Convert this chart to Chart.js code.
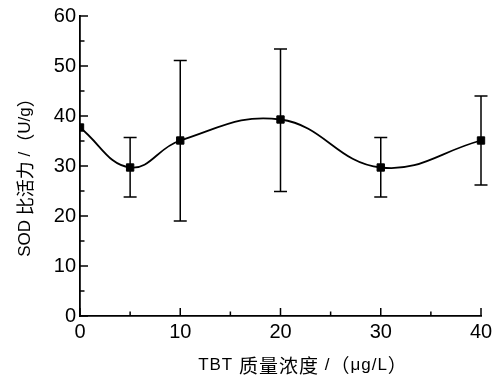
<!DOCTYPE html>
<html>
<head>
<meta charset="utf-8">
<script src="https://cdn.jsdelivr.net/npm/chart.js@4/dist/chart.umd.min.js"></script>
<style>
html,body{margin:0;padding:0;background:#fff;}
#wrap{width:499px;height:376px;position:relative;}
</style>
</head>
<body>
<div id="wrap"><canvas id="c" width="499" height="376"></canvas></div>
<script>
// Data
const concentrations = [0, 5, 10, 20, 30, 40];        // TBT µg/L
const sodActivity    = [37.7, 29.7, 35.1, 39.3, 29.7, 35.1]; // U/g
const errorUpper     = [null, 35.7, 51.1, 53.4, 35.7, 44.0];
const errorLower     = [null, 23.8, 19.0, 24.9, 23.8, 26.2];
const xMajorTicks = [0, 10, 20, 30, 40];
const xMinorTicks = [5, 15, 25, 35];
const yMajorTicks = [0, 10, 20, 30, 40, 50, 60];
const yMinorTicks = [5, 15, 25, 35, 45, 55];
const xTitle = 'TBT 质量浓度 /（μg/L）';
const yTitle = 'SOD 比活力 /（U/g）';

const LATIN = "'Liberation Sans', Arial, sans-serif";
const CJK = "'Noto Sans CJK SC', sans-serif";

const points = concentrations.map((x, i) => ({x: x, y: sodActivity[i]}));

function isCJK(ch) { return /[\u3000-\u9fff\uff00-\uffef]/.test(ch); }
function runsOf(text) {
  const runs = [];
  for (const ch of text) {
    const c = isCJK(ch);
    if (runs.length && runs[runs.length - 1].cjk === c) runs[runs.length - 1].t += ch;
    else runs.push({t: ch, cjk: c});
  }
  return runs;
}
function drawMixed(ctx, text, cx, cy, latinSize, cjkSize, spacing) {
  const runs = runsOf(text);
  if ('letterSpacing' in ctx) ctx.letterSpacing = spacing + 'px';
  let total = 0;
  runs.forEach(r => {
    ctx.font = (r.cjk ? cjkSize + 'px ' + CJK : latinSize + 'px ' + LATIN);
    r.w = ctx.measureText(r.t).width;
    total += r.w;
  });
  let x = cx - total / 2;
  ctx.textBaseline = 'middle';
  ctx.textAlign = 'left';
  runs.forEach(r => {
    ctx.font = (r.cjk ? cjkSize + 'px ' + CJK : latinSize + 'px ' + LATIN);
    ctx.fillText(r.t, x, cy + (r.cjk ? 0.5 : 0));
    x += r.w;
  });
  if ('letterSpacing' in ctx) ctx.letterSpacing = '0px';
}

const axesPlugin = {
  id: 'axesTicksErr',
  afterDatasetsDraw(chart) {
    const ctx = chart.ctx;
    const xs = chart.scales.x, ys = chart.scales.y;
    const ca = chart.chartArea;
    ctx.save();
    ctx.strokeStyle = '#000';
    // error bars
    ctx.lineWidth = 1.5;
    const cap = 6.5;
    concentrations.forEach((c, i) => {
      if (errorUpper[i] == null || errorLower[i] == null) return;
      const px = xs.getPixelForValue(c);
      const pt = ys.getPixelForValue(errorUpper[i]);
      const pb = ys.getPixelForValue(errorLower[i]);
      ctx.beginPath();
      ctx.moveTo(px, pt); ctx.lineTo(px, pb);
      ctx.moveTo(px - cap, pt); ctx.lineTo(px + cap, pt);
      ctx.moveTo(px - cap, pb); ctx.lineTo(px + cap, pb);
      ctx.stroke();
    });
    // inward ticks
    ctx.lineWidth = 1.5;
    ctx.beginPath();
    xMajorTicks.forEach(v => { const p = xs.getPixelForValue(v); ctx.moveTo(p, ca.bottom); ctx.lineTo(p, ca.bottom - 8); });
    xMinorTicks.forEach(v => { const p = xs.getPixelForValue(v); ctx.moveTo(p, ca.bottom); ctx.lineTo(p, ca.bottom - 4.5); });
    yMajorTicks.forEach(v => { const p = ys.getPixelForValue(v); ctx.moveTo(ca.left, p); ctx.lineTo(ca.left + 8, p); });
    yMinorTicks.forEach(v => { const p = ys.getPixelForValue(v); ctx.moveTo(ca.left, p); ctx.lineTo(ca.left + 4.5, p); });
    ctx.stroke();
    // axis titles
    ctx.fillStyle = '#000';
    drawMixed(ctx, xTitle, 303, 365, 17, 19, 1.0);
    ctx.save();
    ctx.translate(25, 173);
    ctx.rotate(-Math.PI / 2);
    drawMixed(ctx, yTitle, 0, 0, 17, 18, 0);
    ctx.restore();
    ctx.restore();
  }
};

new Chart(document.getElementById('c'), {
  type: 'line',
  data: {
    datasets: [{
      data: points,
      borderColor: '#000',
      backgroundColor: '#000',
      borderWidth: 1.8,
      tension: 0.42,
      pointStyle: 'rect',
      pointRadius: 5.2,
      pointBorderWidth: 1,
      pointBorderColor: '#000',
      pointBackgroundColor: '#000',
      fill: false,
      clip: {left: 0, top: 10, right: 10, bottom: 0}
    }]
  },
  options: {
    responsive: false,
    animation: false,
    events: [],
    layout: { padding: { top: 15, right: 18, bottom: 2, left: 0 } },
    plugins: { legend: { display: false }, tooltip: { enabled: false } },
    scales: {
      x: {
        type: 'linear', min: 0, max: 40,
        afterBuildTicks(s) { s.ticks = xMajorTicks.map(v => ({value: v})); },
        grid: { display: false, drawTicks: false },
        border: { display: true, color: '#000', width: 1.8 },
        ticks: { color: '#000', font: { family: LATIN, size: 20 }, padding: 4, maxRotation: 0 },
        afterFit(s) { s.height = 58; }
      },
      y: {
        type: 'linear', min: 0, max: 60,
        afterBuildTicks(s) { s.ticks = yMajorTicks.map(v => ({value: v})); },
        grid: { display: false, drawTicks: false },
        border: { display: true, color: '#000', width: 1.8 },
        ticks: { color: '#000', font: { family: LATIN, size: 20 }, padding: 4 },
        afterFit(s) { s.width = 80; }
      }
    }
  },
  plugins: [axesPlugin]
});
</script>
</body>
</html>
